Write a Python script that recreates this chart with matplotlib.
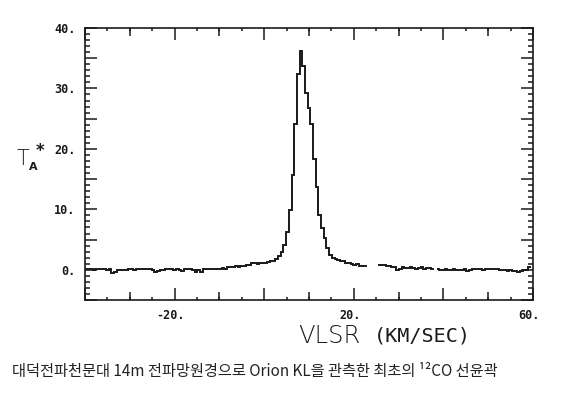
import numpy as np
import matplotlib
matplotlib.use("Agg")
import matplotlib.pyplot as plt
from matplotlib.ticker import MultipleLocator, FuncFormatter
import matplotlib.transforms as mtransforms

# ---- data ----
channel_width = 0.6          # km/s
first_edge = -40.1           # km/s, lower edge of first channel
ta_values = [
    # -40.1 .. -34.1
    0.1, 0.2, 0.1, 0.0, 0.1, 0.2, 0.1, 0.1, 0.0, 0.1,
    # -34.1 .. -28.1
    -0.5, -0.4, -0.1, -0.1, 0.0, 0.0, 0.1, 0.1, 0.0, 0.1,
    # -28.1 .. -22.1
    0.2, 0.2, 0.1, 0.2, 0.1, 0.0, -0.4, -0.2, -0.1, 0.0,
    # -22.1 .. -16.1
    0.1, 0.2, 0.1, -0.1, 0.1, 0.0, -0.2, 0.1, 0.2, 0.1,
    # -16.1 .. -10.1
    0.0, -0.3, 0.0, -0.4, 0.1, 0.1, 0.2, 0.1, 0.1, 0.2,
    # -10.1 .. -4.1
    0.2, 0.3, 0.2, 0.5, 0.4, 0.4, 0.6, 0.5, 0.6, 0.7,
    # -4.1 .. 1.9
    0.8, 0.8, 1.2, 1.1, 1.0, 1.2, 1.1, 1.2, 1.3, 1.4,
    # 1.9 .. 7.9
    1.5, 1.8, 2.3, 3.0, 4.1, 6.2, 9.9, 15.6, 24.2, 32.4,
    # 7.9 .. 13.9
    36.2, 33.7, 29.3, 26.8, 24.2, 18.4, 13.7, 9.0, 6.9, 5.3,
    # 13.9 .. 19.9
    3.6, 2.5, 2.0, 1.8, 1.6, 1.4, 1.4, 1.2, 1.1, 1.0,
    # 19.9 .. 25.9
    0.8, 1.0, 0.7, 0.6, 0.6, np.nan, np.nan, np.nan, np.nan, 0.8,
    # 25.9 .. 31.9
    0.8, 0.8, 0.7, 0.6, 0.5, 0.5, 0.0, 0.2, 0.4, 0.3,
    # 31.9 .. 37.9
    0.3, 0.4, 0.3, 0.2, 0.3, 0.4, 0.2, 0.3, 0.3, 0.2,
    # 37.9 .. 43.9
    np.nan, 0.2, 0.0, -0.1, 0.1, 0.0, -0.1, 0.1, 0.0, -0.1,
    # 43.9 .. 49.9
    0.0, 0.1, -0.2, 0.0, 0.1, 0.2, 0.1, 0.2, 0.0, 0.1,
    # 49.9 .. 55.9
    0.2, 0.1, 0.2, 0.1, -0.1, 0.0, -0.1, -0.2, -0.1, -0.2,
    # 55.9 .. 59.5
    -0.2, -0.3, -0.2, -0.1, -0.1, 0.4,
]
vel_edges = first_edge + channel_width * np.arange(len(ta_values) + 1)

x_labelled = [-20, 20, 60]
x_medium_ticks = [-30, -10, 10, 30, 50]

caption = "대덕전파천문대 14m 전파망원경으로 Orion KL을 관측한 최초의 ¹²CO 선윤곽"

# ---- figure ----
W, H = 576, 398
fig = plt.figure(figsize=(W / 100, H / 100), dpi=100)
fig.patch.set_facecolor("white")
ax = fig.add_axes([85 / W, 1 - 300 / H, (533 - 85) / W, (300 - 28) / H])

ax.stairs(np.array(ta_values), vel_edges, baseline=None, color="#1a1a1a", lw=1.4)

ax.set_xlim(-40, 60)
ax.set_ylim(-5, 40)

for s in ax.spines.values():
    s.set_linewidth(1.2)
    s.set_color("#1a1a1a")

mono = dict(family="DejaVu Sans Mono", weight="bold", size=8.5)

ax.xaxis.set_major_locator(MultipleLocator(20))
ax.xaxis.set_minor_locator(MultipleLocator(5))
ax.xaxis.set_major_formatter(FuncFormatter(
    lambda v, p: f"{v:.0f}." if round(v) in x_labelled else ""))
ax.yaxis.set_major_locator(MultipleLocator(5))
ax.yaxis.set_minor_locator(MultipleLocator(1))
ax.yaxis.set_major_formatter(FuncFormatter(
    lambda v, p: f"{v:.0f}." if (round(v) % 10 == 0 and v >= 0) else ""))

ax.tick_params(which="both", direction="in", top=True, right=True,
               color="#1a1a1a", width=1.1)
ax.tick_params(axis="x", which="major", length=8.5, pad=6.5)
ax.tick_params(axis="x", which="minor", length=2.5)
ax.tick_params(axis="y", which="major", length=8.5, pad=7)
ax.tick_params(axis="y", which="minor", length=3.5)

for lab in ax.get_xticklabels() + ax.get_yticklabels():
    lab.set_fontfamily(mono["family"])
    lab.set_fontweight(mono["weight"])
    lab.set_fontsize(mono["size"])
    lab.set_color("#1a1a1a")

offset = mtransforms.ScaledTranslation(-4 / 100, 0, fig.dpi_scale_trans)
for lab in ax.get_xticklabels():
    lab.set_transform(lab.get_transform() + offset)

for loc in ("bottom", "top"):
    sec = ax.secondary_xaxis(loc)
    sec.set_xticks(x_medium_ticks)
    sec.tick_params(direction="in", length=5.5, width=1.1, color="#1a1a1a",
                    labelbottom=False, labeltop=False)
    for s in sec.spines.values():
        s.set_visible(False)

# y label  T_A*
fig.text(17 / W, 1 - 165 / H, "T", fontsize=15, family="DejaVu Sans",
         weight="light", va="baseline", ha="left", color="#1a1a1a")
fig.text(29 / W, 1 - 170 / H, "A", fontsize=8, family="DejaVu Sans",
         weight="bold", va="baseline", ha="left", color="#1a1a1a")
fig.text(40 / W, 1 - 151 / H, "*", fontsize=12, family="DejaVu Sans",
         weight="bold", va="center", ha="center", color="#1a1a1a")

# x label
fig.text(298 / W, 1 - 343 / H, "VLSR", fontsize=17.5, family="DejaVu Sans",
         weight="light", va="baseline", ha="left", color="#1a1a1a")
fig.text(374 / W, 1 - 341 / H, "(KM/SEC)", fontsize=14.5, family="DejaVu Sans Mono",
         weight="normal", va="baseline", ha="left", color="#1a1a1a")

# caption
fig.text(12 / W, 1 - 371.5 / H, caption, fontsize=11,
         family=["Noto Sans CJK KR", "DejaVu Sans"], va="center", ha="left",
         color="#222222")

fig.savefig("out.png", dpi=100, facecolor="white")
